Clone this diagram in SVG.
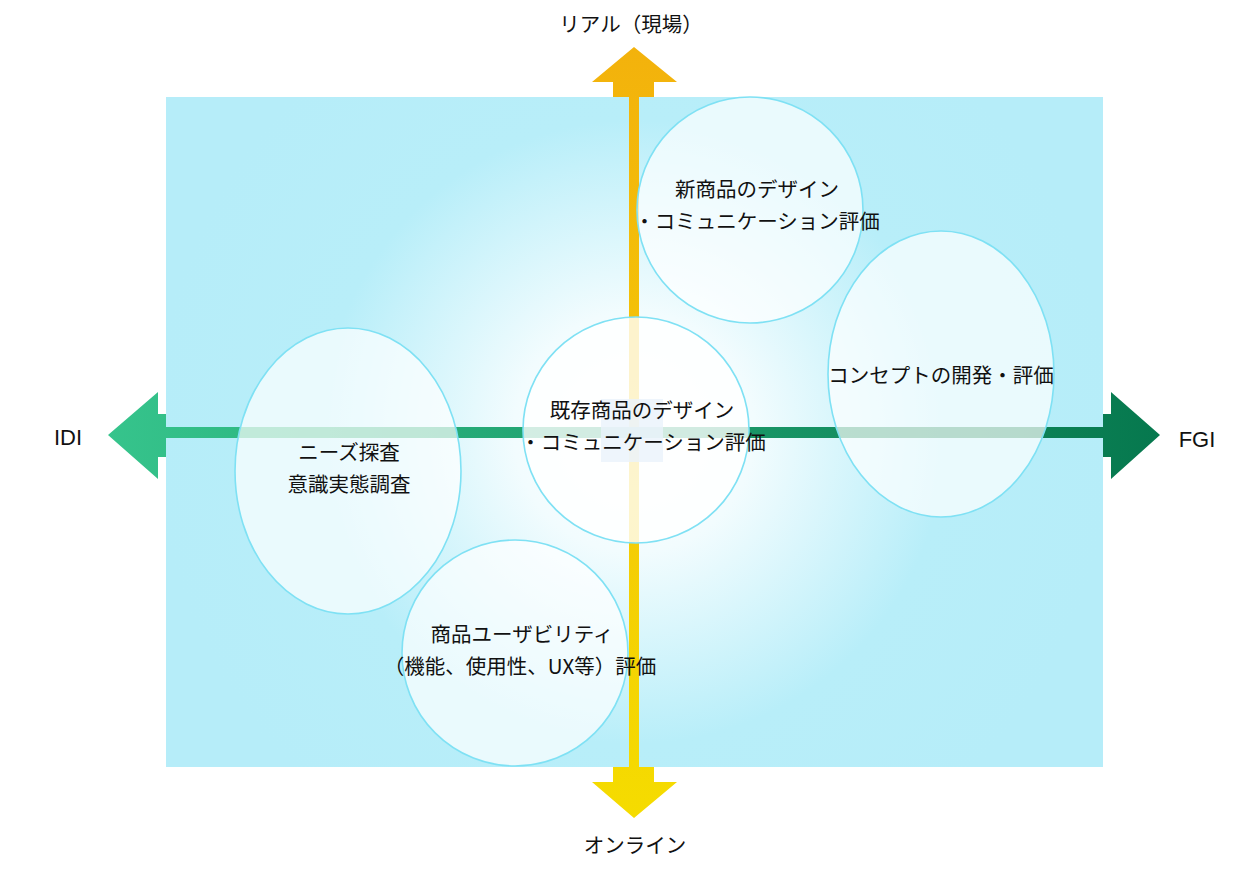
<svg xmlns="http://www.w3.org/2000/svg" width="1252" height="872" viewBox="0 0 1252 872">
<style>
text{font-family:"Noto Sans CJK JP","Noto Sans",sans-serif;font-size:20.5px;fill:#111;text-anchor:middle}
.lat{font-family:"Liberation Sans","Noto Sans",sans-serif;font-size:22px}
.node{fill:#ffffff;fill-opacity:0.7;stroke:#7fe1f4;stroke-width:1.6}
</style>
<defs>
<radialGradient id="bg" gradientUnits="userSpaceOnUse" cx="634" cy="432" r="480">
<stop offset="0" stop-color="#ffffff"/>
<stop offset="0.25" stop-color="#f2fcfe"/>
<stop offset="0.65" stop-color="#b8eef9"/>
<stop offset="1" stop-color="#b6edf9"/>
</radialGradient>
<linearGradient id="vg" x1="0" y1="47" x2="0" y2="818" gradientUnits="userSpaceOnUse">
<stop offset="0" stop-color="#f3b20c"/>
<stop offset="1" stop-color="#f5dc00"/>
</linearGradient>
<linearGradient id="hg" x1="108" y1="0" x2="1160" y2="0" gradientUnits="userSpaceOnUse">
<stop offset="0" stop-color="#36c48c"/>
<stop offset="1" stop-color="#06784e"/>
</linearGradient>
</defs>
<rect x="166" y="97" width="937" height="670" fill="url(#bg)"/>
<g id="connectors">
<polygon fill="url(#vg)" points="634,47 677,82 654,82 654,97 639,97 639,767 654,767 654,782 677,782 634,818 592,782 613,782 613,767 629,767 629,97 613,97 613,82 592,82"/>
<polygon fill="url(#hg)" points="108,435 158,392 158,414 166,414 166,427 1103,427 1103,414 1111,414 1111,392 1160,435 1111,479 1111,457 1103,457 1103,438 166,438 166,457 158,457 158,479"/>
</g>
<g id="axis-labels">
<text x="631" y="32">リアル（現場）</text>
<text x="635" y="853">オンライン</text>
<text class="lat" x="68" y="445">IDI</text>
<text class="lat" x="1197" y="447">FGI</text>
</g>
<g id="node-new">
<ellipse class="node" cx="750" cy="210" rx="113" ry="113"/>
<text x="757" y="197">新商品のデザイン</text>
<text x="757" y="229">・コミュニケーション評価</text>
</g>
<g id="node-concept">
<ellipse class="node" cx="941" cy="374" rx="113" ry="143"/>
<text x="941" y="383">コンセプトの開発・評価</text>
</g>
<g id="node-existing">
<ellipse class="node" cx="636" cy="430" rx="113" ry="113" style="fill-opacity:0.8"/>
<rect x="601" y="399" width="62" height="63" fill="#eaf2fb" fill-opacity="0.8"/>
<text x="642" y="418">既存商品のデザイン</text>
<text x="643" y="450">・コミュニケーション評価</text>
</g>
<g id="node-needs">
<ellipse class="node" cx="348" cy="471" rx="113" ry="143"/>
<text x="349" y="460">ニーズ探査</text>
<text x="349" y="492">意識実態調査</text>
</g>
<g id="node-usability">
<ellipse class="node" cx="515" cy="653" rx="113" ry="113"/>
<text x="522" y="642">商品ユーザビリティ</text>
<text x="520" y="674">（機能、使用性、UX等）評価</text>
</g>
</svg>
